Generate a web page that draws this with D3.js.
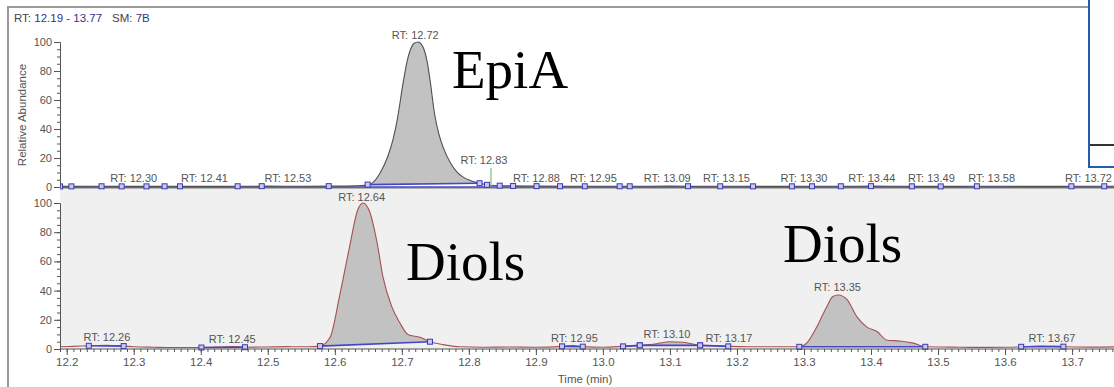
<!DOCTYPE html>
<html>
<head>
<meta charset="utf-8">
<script src="https://cdn.jsdelivr.net/npm/d3@7"></script>
<style>
  html, body { margin: 0; padding: 0; background: #fff; }
  svg { display: block; font-family: "Liberation Sans", Arial, sans-serif; }
</style>
</head>
<body>
<svg id="chart" width="1114" height="387"></svg>
<script>
// ---- chromatogram data: [time (min), relative abundance (%)] ----
const epiaTrace = [
  [12.19, 0.4], [12.25, 0.5], [12.30, 0.4], [12.35, 0.5], [12.40, 0.4], [12.45, 0.5],
  [12.50, 0.6], [12.55, 0.5], [12.60, 0.6], [12.63, 0.8], [12.645, 1.1], [12.655, 2.5],
  [12.668, 10], [12.679, 21], [12.687, 33], [12.693, 46], [12.702, 72], [12.708, 87],
  [12.713, 95], [12.718, 99], [12.724, 100], [12.729, 98.5], [12.733, 95], [12.738, 86],
  [12.742, 74], [12.749, 50], [12.755, 37], [12.762, 27], [12.772, 17], [12.782, 10.5],
  [12.791, 7], [12.802, 4.5], [12.812, 3], [12.827, 1.5], [12.85, 0.8],
  [12.90, 0.6], [12.95, 0.5], [13.00, 0.5], [13.05, 0.5], [13.10, 0.6], [13.15, 0.5],
  [13.20, 0.5], [13.25, 0.4], [13.30, 0.5], [13.35, 0.5], [13.40, 0.6], [13.45, 0.5],
  [13.50, 0.4], [13.55, 0.5], [13.60, 0.5], [13.65, 0.4], [13.70, 0.5], [13.77, 0.5]
];

const diolsTrace = [
  [12.19, 1.5], [12.21, 1.8], [12.233, 2.2], [12.26, 2.6], [12.285, 2.0], [12.30, 1.5],
  [12.33, 1.2], [12.36, 1.0], [12.401, 1.0], [12.431, 1.4], [12.45, 1.7], [12.466, 1.2],
  [12.50, 1.4], [12.53, 1.6], [12.56, 1.5], [12.578, 2.0], [12.593, 8], [12.607, 36],
  [12.622, 70], [12.634, 95], [12.642, 100], [12.652, 94], [12.663, 73], [12.672, 49],
  [12.685, 29], [12.697, 18], [12.709, 10], [12.727, 8], [12.742, 5], [12.761, 3],
  [12.787, 1.5], [12.82, 1.2], [12.86, 1.4], [12.90, 1.2], [12.939, 1.8], [12.955, 2.3],
  [12.970, 1.6], [13.00, 1.2], [13.030, 1.8], [13.055, 2.5], [13.08, 3.6], [13.10, 5],
  [13.12, 4.6], [13.145, 2.5], [13.17, 2.2], [13.187, 1.8], [13.22, 1.5], [13.26, 1.5],
  [13.293, 1.5], [13.304, 4], [13.319, 15], [13.334, 29], [13.343, 36], [13.351, 37],
  [13.364, 34], [13.379, 22], [13.394, 15], [13.409, 12], [13.424, 6], [13.443, 5.5],
  [13.463, 4], [13.481, 1.5], [13.52, 1.3], [13.56, 1.1], [13.60, 1.2], [13.624, 1.5],
  [13.655, 2.0], [13.687, 1.6], [13.73, 1.3], [13.77, 1.5]
];

// integrated peak windows [start, end] (min)
const epiaPeaks = [[12.649, 12.816]];
const diolsPeaks = [
  [12.233, 12.285], [12.401, 12.466], [12.578, 12.742], [12.939, 12.970],
  [13.030, 13.055], [13.055, 13.145], [13.145, 13.187], [13.293, 13.481], [13.624, 13.687]
];

// peak-boundary markers along the top trace (min)
const epiaMarks = [
  12.19, 12.207, 12.252, 12.282, 12.319, 12.346, 12.369, 12.455, 12.491, 12.591, 12.649,
  12.816, 12.827, 12.846, 12.866, 12.901, 12.936, 12.973, 13.025, 13.040, 13.127, 13.175,
  13.224, 13.282, 13.312, 13.355, 13.400, 13.461, 13.504, 13.558, 13.699, 13.748
];

// retention-time labels
const epiaLabels = [12.30, 12.41, 12.53, 12.72, 12.83, 12.88, 12.95, 13.09, 13.15, 13.30, 13.44, 13.49, 13.58, 13.72];
const diolsLabels = [12.26, 12.45, 12.64, 12.95, 13.10, 13.17, 13.35, 13.67];

const yTickValues = [0, 20, 40, 60, 80, 100];
const xTickValues = d3.range(12.2, 13.75, 0.1).map(v => +v.toFixed(1));

// ---- layout ----
const svg = d3.select("#chart");
const W = 1114;

const x = d3.scaleLinear().domain([12.19, 13.77]).range([60, 1119]);
const yTop = d3.scaleLinear().domain([0, 100]).range([187, 42]);
const yBot = d3.scaleLinear().domain([0, 100]).range([349, 203]);

// label placement tweaks (px) where neighbouring labels collide
const nudgeTop = { "12.41": [-3, 0], "12.83": [-5, -17], "12.88": [14, 0], "12.95": [24, 0],
  "13.09": [4, 0], "13.15": [23, 0], "13.44": [-26, 0], "13.72": [3, 0] };
const nudgeBot = { "12.45": [-2, 0], "12.95": [5, 0], "13.10": [-3, 0], "13.17": [12, 0] };

svg.append("defs").append("clipPath").attr("id", "plotClip")
  .append("rect").attr("x", 60).attr("y", 0).attr("width", W - 60).attr("height", 352);

// outer frame
svg.append("line").attr("x1", 7).attr("x2", 1088).attr("y1", 7).attr("y2", 7)
  .attr("stroke", "#9a9a9a").attr("stroke-width", 2);
svg.append("line").attr("x1", 8).attr("x2", 8).attr("y1", 6).attr("y2", 387)
  .attr("stroke", "#9a9a9a").attr("stroke-width", 2);

// lower panel background
svg.append("rect").attr("x", 60).attr("y", 189).attr("width", W - 60).attr("height", 160)
  .attr("fill", "#f0f0f0");

// header
const header = svg.append("text").attr("x", 14).attr("y", 22).attr("font-size", 11.5).attr("fill", "#444");
header.append("tspan").text("RT: ");
header.append("tspan").attr("fill", "#34348a").text("12.19 - 13.77");
header.append("tspan").attr("dx", 10).text("SM: ");
header.append("tspan").attr("fill", "#34348a").text("7B");

// y axis title
svg.append("text").attr("transform", "translate(26,115) rotate(-90)")
  .attr("text-anchor", "middle").attr("font-size", 11.5).attr("fill", "#555")
  .text("Relative Abundance");

function valueAt(trace, t) {
  const i = d3.bisector(d => d[0]).left(trace, t);
  if (i <= 0) return trace[0][1];
  if (i >= trace.length) return trace[trace.length - 1][1];
  const a = trace[i - 1], b = trace[i];
  return a[1] + (b[1] - a[1]) * (t - a[0]) / (b[0] - a[0]);
}

function drawYAxis(y) {
  const g = svg.append("g").attr("transform", "translate(60,0)");
  g.call(d3.axisLeft(y).tickValues(d3.range(0, 101, 5)).tickSize(3).tickFormat(""))
    .call(s => s.select(".domain").remove());
  const m = svg.append("g").attr("transform", "translate(60,0)")
    .call(d3.axisLeft(y).tickValues(yTickValues).tickSize(6).tickPadding(2));
  m.select(".domain").attr("stroke", "#555");
  [g, m].forEach(s => s.selectAll("line").attr("stroke", "#555"));
  m.selectAll("text").attr("font-size", 11).attr("fill", "#555")
    .style("font-family", "'Liberation Sans', Arial, sans-serif");
}

function drawPanel(trace, y, peaks, strokeColor, labels, nudge, marks) {
  const layer = svg.append("g").attr("clip-path", "url(#plotClip)");
  const curve = d3.curveMonotoneX;

  // filled integrated areas
  peaks.forEach(([s, e]) => {
    const vs = valueAt(trace, s), ve = valueAt(trace, e);
    const pts = [[s, vs]].concat(trace.filter(d => d[0] > s && d[0] < e)).concat([[e, ve]]);
    const base = t => vs + (ve - vs) * (t - s) / (e - s);
    layer.append("path").datum(pts)
      .attr("fill", "#c2c2c2")
      .attr("d", d3.area().curve(curve).x(d => x(d[0])).y0(d => y(base(d[0]))).y1(d => y(d[1])));
  });

  // chromatogram trace
  layer.append("path").datum(trace)
    .attr("fill", "none").attr("stroke", strokeColor).attr("stroke-width", 1.1)
    .attr("d", d3.line().curve(curve).x(d => x(d[0])).y(d => y(d[1])));

  // integration baselines
  peaks.forEach(([s, e]) => {
    layer.append("line")
      .attr("x1", x(s)).attr("x2", x(e))
      .attr("y1", y(valueAt(trace, s))).attr("y2", y(valueAt(trace, e)))
      .attr("stroke", "#4545c8").attr("stroke-width", 1.6);
  });

  // boundary markers
  const markTimes = marks || peaks.flat();
  layer.selectAll(null).data(markTimes).enter().append("rect")
    .attr("x", d => x(d) - 2.5).attr("y", d => y(valueAt(trace, d)) - 2.5)
    .attr("width", 5).attr("height", 5)
    .attr("fill", "#c9c9ee").attr("stroke", "#3a3ab8").attr("stroke-width", 1);

  // retention-time labels
  labels.forEach(rt => {
    const key = rt.toFixed(2);
    const [dx, dy] = nudge[key] || [0, 0];
    const v = valueAt(trace, rt);
    svg.append("text")
      .attr("x", x(rt) + dx).attr("y", y(v) - 4 + dy)
      .attr("text-anchor", "middle").attr("font-size", 11).attr("fill", "#555")
      .text("RT: " + key);
  });
}

// ---- upper panel (EpiA) ----
svg.append("line").attr("x1", 60).attr("x2", W).attr("y1", 188).attr("y2", 188)
  .attr("stroke", "#666").attr("stroke-width", 1);
svg.append("line").attr("x1", 60).attr("x2", W).attr("y1", yTop(0)).attr("y2", yTop(0))
  .attr("stroke", "#4545c8").attr("stroke-width", 1.4);
drawPanel(epiaTrace, yTop, epiaPeaks, "#505050", epiaLabels, nudgeTop, epiaMarks);
svg.append("line").attr("x1", x(12.833)).attr("x2", x(12.833)).attr("y1", 168).attr("y2", 184)
  .attr("stroke", "#5cb85c").attr("stroke-width", 1);
drawYAxis(yTop);

// ---- lower panel (Diols) ----
drawPanel(diolsTrace, yBot, diolsPeaks, "#a85050", diolsLabels, nudgeBot, null);
drawYAxis(yBot);

// time axis
const xMinor = svg.append("g").attr("transform", "translate(0,349)")
  .call(d3.axisBottom(x).tickValues(d3.range(12.19, 13.77, 0.01)).tickSize(3).tickFormat(""));
xMinor.select(".domain").remove();
const xMajor = svg.append("g").attr("transform", "translate(0,349)")
  .call(d3.axisBottom(x).tickValues(xTickValues).tickSize(6).tickPadding(3).tickFormat(d3.format(".1f")));
xMajor.select(".domain").attr("d", `M60,0H${W}`).attr("stroke", "#555");
[xMinor, xMajor].forEach(s => s.selectAll("line").attr("stroke", "#555"));
xMajor.selectAll("text").attr("font-size", 11.5).attr("fill", "#555")
  .style("font-family", "'Liberation Sans', Arial, sans-serif");

svg.append("text").attr("x", 585).attr("y", 383).attr("text-anchor", "middle")
  .attr("font-size", 11.5).attr("fill", "#555").text("Time (min)");

// compound annotations
const serif = "'Liberation Serif', 'Times New Roman', serif";
[["EpiA", 452, 88], ["Diols", 406, 280], ["Diols", 783, 262]].forEach(([t, tx, ty]) => {
  svg.append("text").attr("x", tx).attr("y", ty)
    .style("font-family", serif).attr("font-size", 55).attr("fill", "#000").text(t);
});

// adjoining panel edge at the top right
svg.append("rect").attr("x", 1089).attr("y", -5).attr("width", 40).attr("height", 172)
  .attr("fill", "#fff").attr("stroke", "#1f5fae").attr("stroke-width", 2);
svg.append("line").attr("x1", 1090).attr("x2", W).attr("y1", 145).attr("y2", 145)
  .attr("stroke", "#333").attr("stroke-width", 2);
</script>
</body>
</html>
